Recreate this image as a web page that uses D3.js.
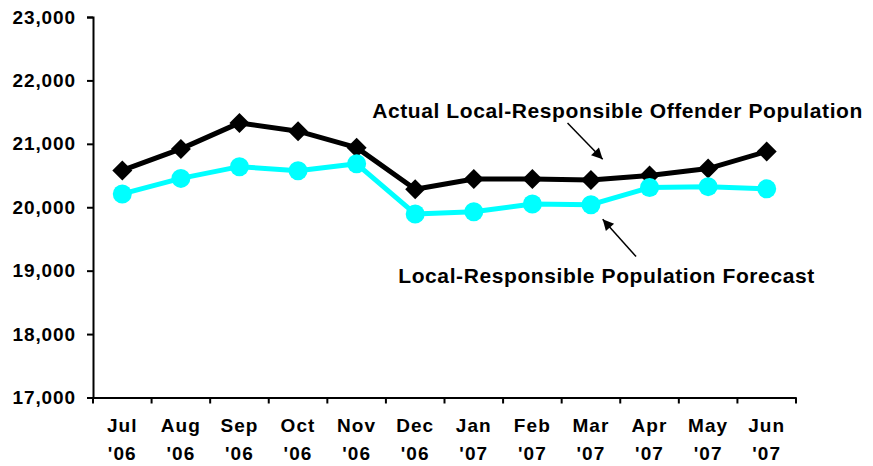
<!DOCTYPE html>
<html>
<head>
<meta charset="utf-8">
<script src="https://cdn.jsdelivr.net/npm/d3@7"></script>
<style>
  body { margin: 0; background: #fff; }
  text { font-family: Arial, "Liberation Sans", sans-serif; font-weight: bold; fill: #000; }
</style>
</head>
<body>
<script>
// months along the x axis (two-line labels)
var months = ['Jul', 'Aug', 'Sep', 'Oct', 'Nov', 'Dec', 'Jan', 'Feb', 'Mar', 'Apr', 'May', 'Jun'];
var years = ["'06", "'06", "'06", "'06", "'06", "'06", "'07", "'07", "'07", "'07", "'07", "'07"];

// actual local-responsible offender population
var actual = [20580, 20920, 21330, 21200, 20940, 20285, 20445, 20445, 20430, 20500, 20610, 20880];
// local-responsible population forecast
var forecast = [20210, 20455, 20640, 20575, 20685, 19895, 19930, 20050, 20040, 20310, 20325, 20290];

var yTicks = [17000, 18000, 19000, 20000, 21000, 22000, 23000];

var W = 873, H = 466;
// plot edges (note: "top" is reserved on window, so use other names)
var plotL = 93, plotR = 796, plotT = 17, plotB = 397.5;

var svg = d3.select("body").append("svg")
    .attr("width", W)
    .attr("height", H);

var x = d3.scaleBand()
    .domain(d3.range(months.length))
    .range([plotL, plotR])
    .padding(0);

var y = d3.scaleLinear()
    .domain([17000, 23000])
    .range([plotB, plotT]);

// index -> pixel, used for the annotations
var xi = d3.scaleLinear()
    .domain([0, months.length - 1])
    .range([x(0) + x.bandwidth() / 2, x(months.length - 1) + x.bandwidth() / 2]);

// y axis
var yAxis = svg.append("g")
    .attr("transform", "translate(" + plotL + ",0)")
    .call(d3.axisLeft(y).tickValues(yTicks).tickSize(6).tickPadding(11).tickFormat(d3.format(",")));
yAxis.selectAll("text").style("font-size", "19px").style("letter-spacing", "0.9px");

// x axis
var xAxis = svg.append("g")
    .attr("transform", "translate(0," + plotB + ")")
    .call(d3.axisBottom(x).tickSize(0).tickFormat(""));

// category boundary ticks
xAxis.selectAll("line.sep")
    .data(d3.range(months.length + 1))
    .enter().append("line")
    .attr("class", "sep")
    .attr("x1", function(d) { return d < months.length ? x(d) : plotR; })
    .attr("x2", function(d) { return d < months.length ? x(d) : plotR; })
    .attr("y1", 0)
    .attr("y2", 6)
    .attr("stroke", "#000")
    .attr("stroke-width", 2);

svg.selectAll(".domain").attr("stroke", "#000").attr("stroke-width", 2);
yAxis.selectAll(".tick line").attr("stroke-width", 2);

svg.append("g").selectAll("text.month")
    .data(months)
    .enter().append("text")
    .attr("class", "month")
    .attr("text-anchor", "middle")
    .style("font-size", "19px")
    .style("letter-spacing", "1.1px")
    .attr("x", function(d, i) { return x(i) + x.bandwidth() / 2; })
    .attr("y", 432)
    .text(function(d) { return d; });

svg.append("g").selectAll("text.year")
    .data(years)
    .enter().append("text")
    .attr("class", "year")
    .attr("text-anchor", "middle")
    .style("font-size", "19px")
    .style("letter-spacing", "1.1px")
    .attr("x", function(d, i) { return x(i) + x.bandwidth() / 2; })
    .attr("y", 460)
    .text(function(d) { return d; });

var line = d3.line()
    .x(function(d, i) { return x(i) + x.bandwidth() / 2; })
    .y(function(d) { return y(d); });

// actual (black diamonds)
svg.append("path")
    .datum(actual)
    .attr("fill", "none")
    .attr("stroke", "#000")
    .attr("stroke-width", 5)
    .attr("stroke-linejoin", "round")
    .attr("d", line);

svg.selectAll("path.diamond")
    .data(actual)
    .enter().append("path")
    .attr("class", "diamond")
    .attr("d", d3.symbol().type(d3.symbolSquare).size(200))
    .attr("transform", function(d, i) {
      return "translate(" + (x(i) + x.bandwidth() / 2) + "," + y(d) + ") rotate(45)";
    })
    .attr("fill", "#000");

// forecast (cyan circles)
svg.append("path")
    .datum(forecast)
    .attr("fill", "none")
    .attr("stroke", "#00FFFF")
    .attr("stroke-width", 5)
    .attr("stroke-linejoin", "round")
    .attr("d", line);

svg.selectAll("circle.fc")
    .data(forecast)
    .enter().append("circle")
    .attr("class", "fc")
    .attr("cx", function(d, i) { return x(i) + x.bandwidth() / 2; })
    .attr("cy", function(d) { return y(d); })
    .attr("r", 9.5)
    .attr("fill", "#00FFFF");

// annotations
svg.append("defs").append("marker")
    .attr("id", "head")
    .attr("viewBox", "0 0 10 10")
    .attr("refX", 10)
    .attr("refY", 5)
    .attr("markerWidth", 13)
    .attr("markerHeight", 11)
    .attr("markerUnits", "userSpaceOnUse")
    .attr("orient", "auto")
    .append("path")
    .attr("d", "M0,0 L10,5 L0,10 Z")
    .attr("fill", "#000");

var arrows = [
  {x1: 7.6, v1: 21330, x2: 8.2, v2: 20757},
  {x1: 8.77, v1: 19222, x2: 8.2, v2: 19812}
];
svg.selectAll("line.arrow")
    .data(arrows)
    .enter().append("line")
    .attr("class", "arrow")
    .attr("x1", function(d) { return xi(d.x1); })
    .attr("y1", function(d) { return y(d.v1); })
    .attr("x2", function(d) { return xi(d.x2); })
    .attr("y2", function(d) { return y(d.v2); })
    .attr("stroke", "#000")
    .attr("stroke-width", 1.5)
    .attr("marker-end", "url(#head)");

var notes = [
  {t: "Actual Local-Responsible Offender Population", i: 4.265, v: 21405},
  {t: "Local-Responsible Population Forecast", i: 4.71, v: 18800}
];
svg.selectAll("text.note")
    .data(notes)
    .enter().append("text")
    .attr("class", "note")
    .style("font-size", "21px")
    .style("letter-spacing", "0.6px")
    .attr("x", function(d) { return xi(d.i); })
    .attr("y", function(d) { return y(d.v); })
    .text(function(d) { return d.t; });
</script>
</body>
</html>
